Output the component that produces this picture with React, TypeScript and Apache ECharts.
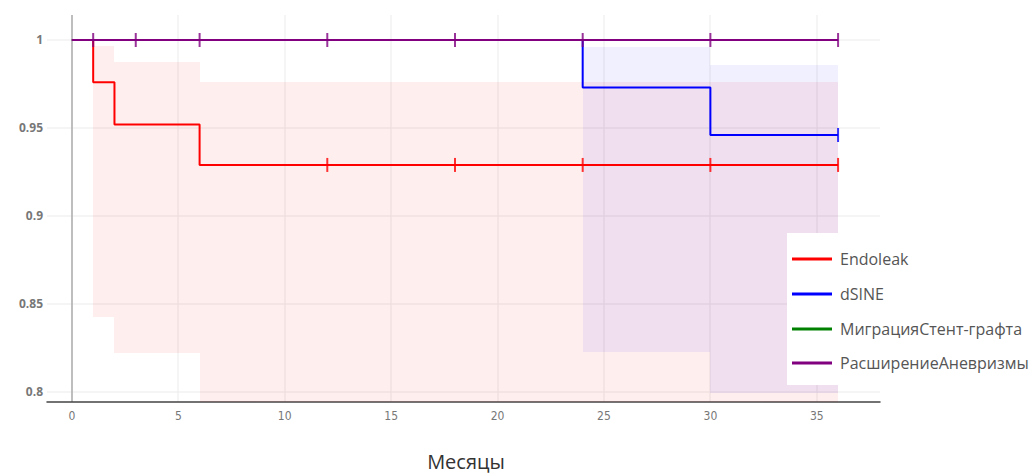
import React, { useEffect, useRef } from "react";
import * as echarts from "echarts";

// ---- data ----
const seriesNames = ["Endoleak", "dSINE", "МиграцияСтент-графта", "РасширениеАневризмы"];
const seriesColors = ["#ff0000", "#0000ff", "#008000", "#800080"];

// Kaplan–Meier step points [month, survival]
const endoleakSteps = [[0, 1], [1, 0.976], [2, 0.952], [6, 0.929], [36, 0.929]];
const dsineSteps = [[0, 1], [24, 0.973], [30, 0.946], [36, 0.946]];
const migrationSteps = [[0, 1], [36, 1]];
const aneurysmSteps = [[0, 1], [36, 1]];

// censored observations [month, survival]
const endoleakCensored = [[12, 0.929], [18, 0.929], [24, 0.929], [30, 0.929], [36, 0.929]];
const dsineCensored = [[36, 0.946]];
const migrationCensored: number[][] = [];
const aneurysmCensored = [[1, 1], [3, 1], [6, 1], [12, 1], [18, 1], [24, 1], [30, 1], [36, 1]];

// confidence bands [fromMonth, toMonth, lower, upper]
const endoleakCI = [[1, 2, 0.8426, 0.9966], [2, 6, 0.8223, 0.9877], [6, 36, 0.78, 0.9763]];
const dsineCI = [[24, 30, 0.8227, 0.996], [30, 36, 0.7995, 0.9858]];

const xTickLabels = [0, 5, 10, 15, 20, 25, 30, 35];
const yTickLabels = [0.8, 0.85, 0.9, 0.95, 1];
const xAxisTitle = "Месяцы";

const X_MIN = -1.17;
const X_MAX = 37.97;
const Y_MIN = 0.7943;
const Y_MAX = 1.0142;

function bandSeries(name: string, data: number[][], fill: string) {
  return {
    name: name + "-ci",
    type: "custom",
    silent: true,
    z: 1,
    clip: true,
    data,
    renderItem: (params: any, api: any) => {
      const p0 = api.coord([api.value(0), api.value(3)]);
      const p1 = api.coord([api.value(1), api.value(2)]);
      const x0 = Math.round(p0[0]);
      const x1 = Math.round(p1[0]);
      const y0 = Math.round(p0[1]);
      const y1 = Math.round(p1[1]);
      const shape = echarts.graphic.clipRectByRect(
        { x: x0, y: y0, width: x1 - x0, height: y1 - y0 },
        {
          x: params.coordSys.x,
          y: params.coordSys.y,
          width: params.coordSys.width,
          height: params.coordSys.height,
        }
      );
      if (!shape) return null;
      return { type: "rect", shape, style: { fill, stroke: null, lineWidth: 0 } };
    },
  };
}

// vertical / horizontal grid lines drawn by a custom series through the axes' scales
function gridLineSeries(name: string, data: number[][], color: string, width: number, z: number) {
  return {
    name,
    type: "custom",
    silent: true,
    z,
    clip: true,
    data,
    renderItem: (params: any, api: any) => {
      const kind = api.value(0);
      const v = api.value(1);
      const cs = params.coordSys;
      if (kind === 0) {
        const x = Math.round(api.coord([v, Y_MIN])[0]);
        return {
          type: "line",
          shape: { x1: x, y1: cs.y, x2: x, y2: cs.y + cs.height },
          style: { stroke: color, lineWidth: width },
        };
      }
      const y = Math.round(api.coord([X_MIN, v])[1]);
      return {
        type: "line",
        shape: { x1: cs.x, y1: y, x2: cs.x + cs.width, y2: y },
        style: { stroke: color, lineWidth: width },
      };
    },
  };
}

function stepSeries(name: string, data: number[][], color: string, z: number) {
  return {
    name,
    type: "line",
    step: "end",
    data,
    color,
    showSymbol: false,
    symbol: "none",
    lineStyle: { color, width: 2 },
    z,
    silent: true,
  };
}

function censorSeries(name: string, data: number[][], color: string, z: number) {
  return {
    name,
    type: "scatter",
    data,
    symbol: "rect",
    symbolSize: [2, 14],
    itemStyle: { color },
    z,
    silent: true,
  };
}

export default function App() {
  const ref = useRef<HTMLDivElement>(null);

  useEffect(() => {
    if (!ref.current) return;
    const chart = echarts.init(ref.current, undefined, { renderer: "svg" });

    const gridData = [
      ...xTickLabels.filter((v) => v !== 0).map((v) => [0, v]),
      ...yTickLabels.map((v) => [1, v]),
    ];

    const legendTop = 233;
    const rowY = [259, 294, 329, 363];
    const legendGraphics: any[] = [
      {
        type: "rect",
        shape: { x: 787, y: legendTop, width: 260, height: 152 },
        style: { fill: "#ffffff" },
        z: 50,
        silent: true,
      },
    ];
    seriesNames.forEach((name, i) => {
      legendGraphics.push({
        type: "line",
        shape: { x1: 792, y1: rowY[i], x2: 832, y2: rowY[i] },
        style: { stroke: seriesColors[i], lineWidth: 3 },
        z: 51,
        silent: true,
      });
      legendGraphics.push({
        type: "text",
        x: 840,
        y: rowY[i],
        style: {
          text: name,
          fontSize: 16,
          fontFamily: "Open Sans",
          fill: "#555",
          verticalAlign: "middle",
          align: "left",
        },
        z: 51,
        silent: true,
      });
    });

    chart.setOption({
      animation: false,
      grid: { left: 47, right: 149, top: 15, bottom: 72 },
      xAxis: {
        type: "value",
        min: X_MIN,
        max: X_MAX,
        splitLine: { show: false },
        axisLine: { show: true, onZero: false, lineStyle: { color: "#444", width: 1.5 } },
        axisTick: { show: false, customValues: xTickLabels },
        axisLabel: {
          customValues: xTickLabels,
          color: "#777",
          fontSize: 12,
          fontFamily: "'DejaVu Sans Condensed', 'Liberation Sans Narrow', Roboto, sans-serif",
          margin: 8,
        },
      },
      yAxis: {
        type: "value",
        min: Y_MIN,
        max: Y_MAX,
        splitLine: { show: false },
        axisLine: { show: false },
        axisTick: { show: false, customValues: yTickLabels },
        axisLabel: {
          customValues: yTickLabels,
          color: "#777",
          fontSize: 12,
          fontWeight: "bold",
          fontFamily: "'Open Sans', sans-serif",
          margin: 4,
          formatter: (v: number) => String(Math.round(v * 100) / 100),
        },
      },
      graphic: [
        ...legendGraphics,
        {
          type: "text",
          x: 466,
          y: 461,
          style: {
            text: xAxisTitle,
            align: "center",
            verticalAlign: "middle",
            fontSize: 20,
            fontFamily: "'Open Sans', sans-serif",
            fill: "#333",
          },
        },
      ],
      series: [
        gridLineSeries("grid", gridData, "#ebebeb", 1, 0),
        gridLineSeries("zero", [[0, 0]], "#a8a8a8", 1.5, 0),
        bandSeries("Endoleak", endoleakCI, "rgba(255,0,0,0.065)"),
        bandSeries("dSINE", dsineCI, "rgba(0,0,255,0.06)"),
        stepSeries(seriesNames[0], endoleakSteps, seriesColors[0], 3),
        censorSeries(seriesNames[0] + "-c", endoleakCensored, seriesColors[0], 3),
        stepSeries(seriesNames[1], dsineSteps, seriesColors[1], 4),
        censorSeries(seriesNames[1] + "-c", dsineCensored, seriesColors[1], 4),
        stepSeries(seriesNames[2], migrationSteps, seriesColors[2], 5),
        censorSeries(seriesNames[2] + "-c", migrationCensored, seriesColors[2], 5),
        stepSeries(seriesNames[3], aneurysmSteps, seriesColors[3], 6),
        censorSeries(seriesNames[3] + "-c", aneurysmCensored, seriesColors[3], 6),
      ],
    });

    return () => chart.dispose();
  }, []);

  return (
    <div
      ref={ref}
      style={{ position: "fixed", left: 0, top: 0, width: 1029, height: 474, background: "#fff" }}
    />
  );
}
